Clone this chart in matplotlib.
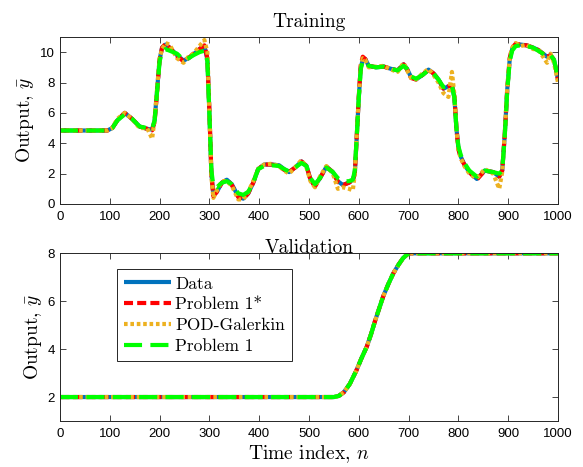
import matplotlib
matplotlib.use("Agg")
import matplotlib.pyplot as plt

plt.rcParams['mathtext.fontset'] = 'cm'
plt.rcParams['lines.scale_dashes'] = False

# ---------------- data ----------------
train_n = [0, 95, 105, 115, 130, 145, 160, 175, 185, 190, 195, 200, 205, 212, 220, 235, 248, 258, 268, 280,
           290, 296, 300, 304, 308, 315, 325, 335, 345, 358, 368, 378, 388, 398, 410, 425, 440, 450, 460, 472,
           485, 495, 503, 512, 522, 535, 548, 558, 568, 580, 588, 592, 596, 600, 604, 608, 613, 620, 635, 650,
           665, 678, 690, 697, 705, 715, 728, 740, 750, 760, 770, 780, 787, 792, 796, 800, 805, 812, 822, 837,
           853, 870, 882, 888, 893, 898, 903, 908, 915, 925, 937, 950, 960, 970, 978, 985, 992, 1000]

train_data = [4.84, 4.84, 5.0, 5.5, 6.0, 5.6, 5.1, 4.95, 4.9, 5.5,
              7.5, 9.5, 10.3, 10.5, 10.3, 9.8, 9.45, 9.6, 9.85, 10.2,
              10.4, 9.5, 6.0, 2.0, 0.6, 0.8, 1.4, 1.6, 1.3, 0.5,
              0.35, 0.7, 1.4, 2.3, 2.6, 2.6, 2.55, 2.3, 2.1, 2.4,
              2.8, 2.5, 1.6, 1.2, 1.7, 2.45, 2.1, 1.5, 1.25, 1.4,
              1.6, 2.0, 4.5, 7.0, 9.0, 9.5, 9.55, 9.1, 9.0, 9.05,
              8.9, 8.8, 9.2, 8.9, 8.35, 8.2, 8.5, 8.85, 8.6, 8.2,
              7.6, 7.75, 7.8, 7.0, 5.0, 3.7, 3.1, 2.6, 2.1, 1.65,
              2.2, 2.1, 1.8, 2.2, 4.5, 7.5, 9.5, 10.2, 10.5, 10.5,
              10.45, 10.3, 10.15, 9.9, 9.7, 9.8, 9.5, 8.2]

train_p1star = [4.84, 4.84, 5.0, 5.5, 6.0, 5.6, 5.1, 4.95, 4.85, 5.4,
                7.4, 9.5, 10.3, 10.55, 10.3, 9.75, 9.4, 9.6, 9.9, 10.2,
                10.45, 9.6, 6.2, 2.0, 0.5, 0.8, 1.4, 1.6, 1.25, 0.45,
                0.35, 0.7, 1.4, 2.3, 2.6, 2.6, 2.5, 2.25, 2.1, 2.4,
                2.8, 2.5, 1.6, 1.15, 1.7, 2.45, 2.1, 1.45, 1.25, 1.4,
                1.55, 2.0, 4.5, 7.1, 9.2, 9.7, 9.55, 9.1, 9.0, 9.05,
                8.9, 8.8, 9.2, 8.85, 8.3, 8.2, 8.5, 8.85, 8.6, 8.2,
                7.6, 7.75, 7.8, 7.1, 5.0, 3.6, 3.0, 2.6, 2.1, 1.6,
                2.2, 2.1, 1.8, 2.2, 4.5, 7.5, 9.6, 10.3, 10.55, 10.5,
                10.45, 10.3, 10.15, 9.9, 9.7, 9.8, 9.5, 8.2]

train_pod = [4.84, 4.84, 5.0, 5.6, 6.0, 5.6, 5.0, 5.0, 4.3, 5.6,
             7.6, 9.6, 10.2, 10.6, 10.5, 9.6, 9.3, 9.7, 9.9, 10.4,
             10.8, 10.0, 6.0, 1.8, 0.4, 0.9, 1.5, 1.5, 1.2, 0.3,
             0.3, 0.8, 1.5, 2.3, 2.6, 2.65, 2.5, 2.2, 2.0, 2.4,
             2.9, 2.4, 1.5, 1.1, 1.8, 2.5, 2.0, 1.0, 1.1, 1.0,
             0.9, 2.0, 4.6, 7.0, 9.0, 9.6, 9.5, 9.0, 9.05, 9.1,
             8.85, 8.7, 9.3, 8.8, 8.3, 8.2, 8.6, 8.9, 8.5, 8.0,
             7.3, 7.05, 8.7, 7.2, 5.0, 3.6, 3.0, 2.5, 2.0, 1.7,
             2.3, 2.0, 1.0, 2.1, 4.6, 7.6, 9.6, 10.3, 10.6, 10.4,
             10.5, 10.2, 10.2, 9.7, 9.3, 9.9, 9.3, 8.0]

train_p1 = [4.84, 4.84, 5.0, 5.5, 5.9, 5.6, 5.1, 5.0, 4.95, 5.5,
            7.4, 9.4, 10.0, 10.2, 10.1, 9.9, 9.5, 9.6, 9.8, 10.0,
            10.1, 9.4, 6.0, 2.2, 1.2, 1.1, 1.4, 1.5, 1.3, 0.7,
            0.6, 0.8, 1.4, 2.3, 2.5, 2.55, 2.5, 2.3, 2.15, 2.4,
            2.7, 2.5, 1.7, 1.3, 1.7, 2.4, 2.1, 1.7, 1.5, 1.5,
            1.6, 2.2, 4.5, 7.0, 8.9, 9.4, 9.4, 9.1, 9.0, 9.05,
            8.9, 8.8, 9.1, 8.9, 8.4, 8.25, 8.5, 8.8, 8.6, 8.2,
            7.7, 7.75, 7.8, 7.0, 5.0, 3.8, 3.2, 2.7, 2.2, 1.8,
            2.2, 2.1, 2.0, 2.2, 4.4, 7.4, 9.4, 10.1, 10.4, 10.45,
            10.4, 10.3, 10.1, 9.9, 9.7, 9.8, 9.5, 8.3]

val_n = [0, 550, 560, 570, 582, 595, 605, 616, 625, 633, 641, 649, 659, 669, 679, 689, 697, 703, 710, 1000]
val_data = [2.0, 2.0, 2.05, 2.2, 2.55, 3.1, 3.6, 4.1, 4.65, 5.2, 5.7, 6.2, 6.7, 7.15, 7.5, 7.8, 7.95, 8.0, 8.0, 8.0]
val_p1star = [2.0, 2.0, 2.05, 2.2, 2.55, 3.1, 3.6, 4.1, 4.65, 5.2, 5.7, 6.2, 6.7, 7.15, 7.5, 7.8, 7.95, 8.0, 8.0, 8.0]
val_pod = [2.0, 2.0, 2.05, 2.2, 2.55, 3.1, 3.6, 4.1, 4.65, 5.2, 5.7, 6.2, 6.7, 7.15, 7.5, 7.8, 7.95, 8.0, 8.0, 8.0]
val_p1 = [2.0, 2.0, 2.05, 2.2, 2.55, 3.1, 3.6, 4.1, 4.65, 5.2, 5.7, 6.2, 6.7, 7.15, 7.5, 7.8, 7.95, 8.0, 8.0, 8.0]

labels = ['Data', 'Problem 1*', 'POD-Galerkin', 'Problem 1']
xticks = [0, 100, 200, 300, 400, 500, 600, 700, 800, 900, 1000]

# ---------------- styles ----------------
C_BLUE = '#0072BD'
C_RED = '#FF0000'
C_ORANGE = '#EDB120'
C_GREEN = '#00FF00'
LW = 3.0
serif = ['cmr10', 'DejaVu Serif']
sans = ['Liberation Sans', 'DejaVu Sans']

fig = plt.figure(figsize=(5.83, 4.67), dpi=100)
ax1 = fig.add_axes([0.1029, 0.5632, 0.8542, 0.3576])
ax2 = fig.add_axes([0.1029, 0.0985, 0.8542, 0.3591])


def draw(ax, n, d, s, p, g):
    h1, = ax.plot(n, d, color=C_BLUE, lw=LW, solid_capstyle='butt')
    h2, = ax.plot(n, s, color=C_RED, lw=LW, dashes=(6.5, 3.0))
    h3, = ax.plot(n, p, color=C_ORANGE, lw=LW, dashes=(2.6, 2.0), dash_capstyle='butt')
    h4, = ax.plot(n, g, color=C_GREEN, lw=LW, dashes=(13, 6))
    return [h1, h2, h3, h4]


draw(ax1, train_n, train_data, train_p1star, train_pod, train_p1)
handles = draw(ax2, val_n, val_data, val_p1star, val_pod, val_p1)

ax1.set_ylim(0, 11)
ax1.set_yticks([0, 2, 4, 6, 8, 10])
ax2.set_ylim(1, 8)
ax2.set_yticks([2, 4, 6, 8])

for ax in (ax1, ax2):
    ax.set_xlim(0, 1000)
    ax.set_xticks(xticks)
    ax.tick_params(direction='in', top=True, right=True, length=4, width=0.6,
                   labelsize=9.5, colors='#262626')
    ax.tick_params(axis='x', pad=5)
    for lab in ax.get_xticklabels() + ax.get_yticklabels():
        lab.set_fontfamily(sans)
        lab.set_color('black')
    for sp in ax.spines.values():
        sp.set_linewidth(0.7)
        sp.set_color('#262626')
    ax.set_ylabel(r'Output, $\bar{y}$', fontsize=14, family=serif, labelpad=3)

ax1.set_title('Training', fontsize=14, family=serif, pad=7)
ax2.set_title('Validation', fontsize=14, family=serif, pad=0)
ax2.set_xlabel(r'Time index, $n$', fontsize=14, family=serif, labelpad=2)

leg = ax2.legend(handles, labels, loc='upper left', bbox_to_anchor=(0.114, 0.905),
                 borderaxespad=0, prop={'family': serif, 'size': 12.5}, handlelength=2.7,
                 labelspacing=0.32, handletextpad=0.25, borderpad=0.4, fancybox=False,
                 framealpha=1, edgecolor='#262626')
leg.get_frame().set_linewidth(0.7)

fig.savefig('out.png', dpi=100)
